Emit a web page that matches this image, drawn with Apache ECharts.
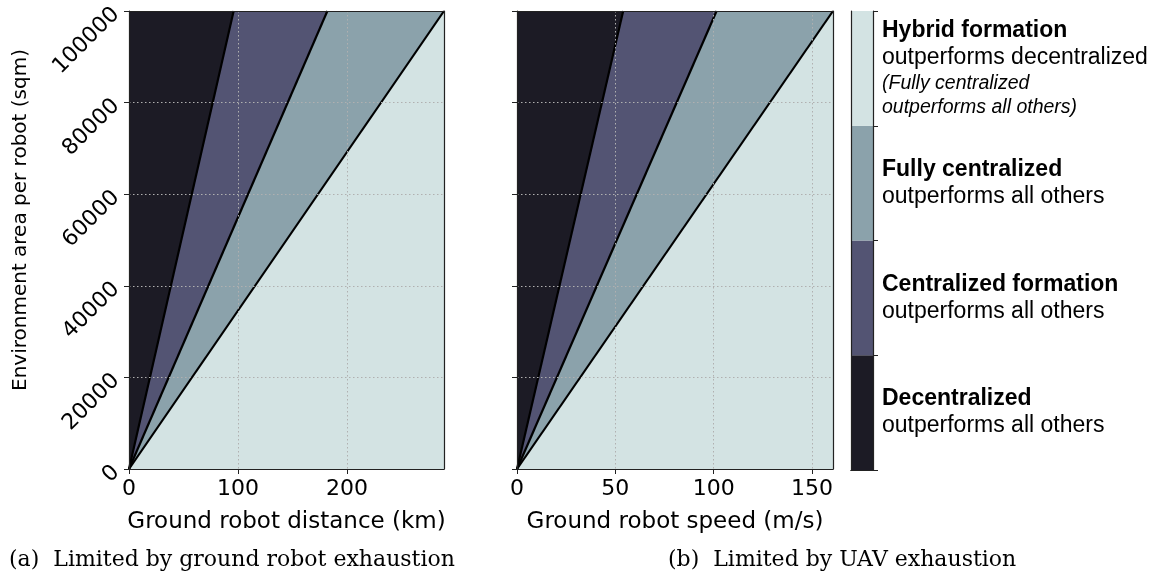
<!DOCTYPE html>
<html>
  <head>
    <title></title>
    <meta charset="UTF-8" />
    <script src="https://cdn.jsdelivr.net/npm/echarts@6/dist/echarts.min.js"></script>
    <style>
      body { margin: 0; background: #fff; }
    </style>
  </head>
  <body>
    <div id="main"></div>
    <script>
      const width = 1157;
      const height = 574;
      const main = document.getElementById('main');
      main.style.width = `${width}px`;
      main.style.height = `${height}px`;

      // region colours, from decentralized (dark) to hybrid (light)
      const regionColors = ['#1c1b25', '#535473', '#8ba2ab', '#d3e3e3'];

      // y range shared by both panels
      const areaMax = 100000;
      const areaInterval = 20000;

      // x value where each boundary line (through the origin) reaches areaMax
      const distanceMax = 289;
      const distanceBoundaries = [96, 182, 289];
      const speedMax = 160.7;
      const speedBoundaries = [54, 101.5, 160.7];

      const legendTitles = ['Decentralized', 'Centralized formation', 'Fully centralized', 'Hybrid formation'];
      const legendNotes = ['outperforms all others', 'outperforms all others', 'outperforms all others', 'outperforms decentralized'];
      const legendAsides = ['', '', '', '(Fully centralized\noutperforms all others)'];

      const captions = ['(a)  Limited by ground robot exhaustion', '(b)  Limited by UAV exhaustion'];

      const sans = 'DejaVu Sans';
      const gridLine = { show: true, lineStyle: { color: '#b0b0b0', type: [1.5, 2.5], width: 1 } };
      const spine = { show: true, onZero: false, lineStyle: { color: '#222', width: 1.2 } };
      const tick = { show: true, inside: false, length: 5, lineStyle: { color: '#222', width: 1 } };

      const panels = [
        { left: 129, width: 315, xMax: distanceMax, xInterval: 100, bounds: distanceBoundaries,
          xName: 'Ground robot distance (km)', yLabels: true },
        { left: 517, width: 316, xMax: speedMax, xInterval: 50, bounds: speedBoundaries,
          xName: 'Ground robot speed (m/s)', yLabels: false }
      ];

      const grids = [];
      const xAxes = [];
      const yAxes = [];
      const series = [];

      panels.forEach((p, i) => {
        grids.push({
          left: p.left, top: 11, width: p.width, height: 458,
          show: true, backgroundColor: regionColors[3], borderWidth: 0
        });
        // axes sit on their own layer so the dotted grid shows over the wedges
        xAxes.push({
          type: 'value', gridIndex: i, min: 0, max: p.xMax, interval: p.xInterval, zlevel: 1,
          position: 'bottom',
          name: p.xName, nameLocation: 'middle', nameGap: 42,
          nameTextStyle: { fontFamily: sans, fontSize: 23, color: '#000' },
          axisLine: spine, axisTick: tick, splitLine: gridLine,
          axisLabel: { fontFamily: sans, fontSize: 22, color: '#000', margin: 9, showMaxLabel: false }
        });
        xAxes.push({
          type: 'value', gridIndex: i, min: 0, max: p.xMax, zlevel: 1, position: 'top',
          axisLine: spine, axisTick: { show: false }, axisLabel: { show: false }, splitLine: { show: false }
        });
        yAxes.push({
          type: 'value', gridIndex: i, min: 0, max: areaMax, interval: areaInterval, zlevel: 1,
          position: 'left',
          name: p.yLabels ? 'Environment area per robot (sqm)' : '',
          nameLocation: 'middle', nameGap: 98,
          nameTextStyle: { fontFamily: sans, fontSize: 20, color: '#000', padding: [0, 0, 0, 40] },
          axisLine: spine, axisTick: tick, splitLine: gridLine,
          axisLabel: {
            show: p.yLabels, fontFamily: sans, fontSize: 22, color: '#000', rotate: 45, margin: 13,
            formatter: (v) => String(v)
          }
        });
        yAxes.push({
          type: 'value', gridIndex: i, min: 0, max: areaMax, zlevel: 1, position: 'right',
          axisLine: spine, axisTick: { show: false }, axisLabel: { show: false }, splitLine: { show: false }
        });

        // fill above each boundary, lightest first so darker wedges sit on top
        for (let k = p.bounds.length - 1; k >= 0; k--) {
          series.push({
            type: 'line',
            xAxisIndex: i * 2,
            yAxisIndex: i * 2,
            data: [[0, 0], [p.bounds[k], areaMax]],
            symbol: 'none',
            silent: true,
            animation: false,
            lineStyle: { color: '#000', width: 2.2 },
            areaStyle: { color: regionColors[k], opacity: 1, origin: 'end' }
          });
        }
      });

      // colour bar with legend text
      const cb = grids.length;
      grids.push({ left: 851, top: 11, width: 22, height: 459 });
      xAxes.push({
        type: 'category', gridIndex: cb, data: ['key'], zlevel: 1, position: 'bottom',
        axisLine: { show: true, lineStyle: { color: '#222', width: 1.2 } },
        axisTick: { show: false }, axisLabel: { show: false }
      });
      xAxes.push({
        type: 'category', gridIndex: cb, data: ['key'], zlevel: 1, position: 'top',
        axisLine: { show: true, lineStyle: { color: '#222', width: 1.2 } },
        axisTick: { show: false }, axisLabel: { show: false }
      });
      yAxes.push({
        type: 'value', gridIndex: cb, min: 0, max: legendTitles.length, interval: 1, zlevel: 1,
        position: 'right',
        axisLine: spine, axisTick: tick, axisLabel: { show: false }, splitLine: { show: false }
      });
      yAxes.push({
        type: 'value', gridIndex: cb, min: 0, max: legendTitles.length, zlevel: 1, position: 'left',
        axisLine: spine, axisTick: { show: false }, axisLabel: { show: false }, splitLine: { show: false }
      });

      legendTitles.forEach((t, k) => {
        let text = `{b|${t}}\n{n|${legendNotes[k]}}`;
        if (legendAsides[k]) {
          text += '\n' + legendAsides[k].split('\n').map((s) => `{i|${s}}`).join('\n');
        }
        series.push({
          type: 'bar',
          xAxisIndex: xAxes.length - 2,
          yAxisIndex: yAxes.length - 2,
          stack: 'key',
          barWidth: '100%',
          data: [1],
          silent: true,
          animation: false,
          itemStyle: { color: regionColors[k] },
          label: {
            show: true,
            position: 'right',
            distance: 9,
            formatter: text,
            rich: {
              b: { fontFamily: 'Liberation Sans', fontWeight: 'bold', fontSize: 23, color: '#000', lineHeight: 27 },
              n: { fontFamily: 'Liberation Sans', fontSize: 23, color: '#000', lineHeight: 27 },
              i: { fontFamily: 'Liberation Sans', fontStyle: 'italic', fontSize: 19.5, color: '#000', lineHeight: 24 }
            }
          }
        });
      });

      const captionStyle = { fontFamily: 'DejaVu Serif', fontWeight: 'normal', fontSize: 22, color: '#000' };
      const myChart = echarts.init(main);
      myChart.setOption({
        animation: false,
        title: [
          { text: captions[0], left: 4, top: 544, textStyle: captionStyle },
          { text: captions[1], left: 663, top: 544, textStyle: captionStyle }
        ],
        grid: grids,
        xAxis: xAxes,
        yAxis: yAxes,
        series
      });
    </script>
  </body>
</html>
